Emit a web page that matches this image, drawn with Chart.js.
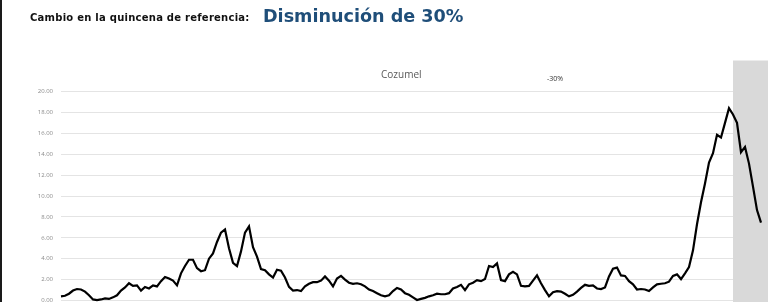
<!DOCTYPE html>
<html><head><meta charset="utf-8">
<script src="https://cdn.jsdelivr.net/npm/chart.js@4"></script>
<style>
html,body{margin:0;padding:0;background:#fff;}
body{width:768px;height:302px;position:relative;overflow:hidden;}
#frame{position:absolute;left:0;top:0;width:768px;height:302px;border-left:2px solid #1a1a1a;box-sizing:border-box;pointer-events:none;}
canvas{position:absolute;left:0;top:0;}
.hdr1{position:absolute;left:30px;top:12px;font:bold 10px "DejaVu Sans";letter-spacing:0.25px;color:#111;white-space:nowrap;}
.hdr2{position:absolute;left:263px;top:6px;font:bold 17.6px "DejaVu Sans";color:#1f4e79;white-space:nowrap;}
.ttl{position:absolute;left:381px;top:67px;font:10px "Open Sans";color:#595959;white-space:nowrap;}
.pct{position:absolute;left:547px;top:74px;font:7px "Open Sans";color:#333;white-space:nowrap;}
</style>
</head><body>
<canvas id="c" width="768" height="302"></canvas>
<div class="hdr1">Cambio en la quincena de referencia:</div>
<div class="hdr2">Disminución de 30%</div>
<div class="ttl">Cozumel</div>
<div class="pct">-30%</div>
<div id="frame"></div>
<script>
const seriesName = "Cozumel";
const values = [
0.4,0.45,0.65,0.95,1.1,1.05,0.85,0.5,0.1,0.03,
0.1,0.2,0.15,0.3,0.5,0.95,1.25,1.65,1.4,1.45,
0.95,1.3,1.15,1.45,1.35,1.85,2.25,2.1,1.9,1.45,
2.6,3.3,3.9,3.9,3.1,2.8,2.9,4.0,4.5,5.6,
6.5,6.8,5.0,3.6,3.3,4.7,6.5,7.1,5.1,4.2,
3.0,2.9,2.5,2.2,2.95,2.85,2.2,1.3,0.95,1.0,
0.9,1.35,1.6,1.75,1.75,1.9,2.3,1.9,1.35,2.1,
2.35,2.0,1.7,1.6,1.65,1.55,1.35,1.05,0.9,0.7,
0.5,0.4,0.5,0.9,1.2,1.05,0.7,0.55,0.3,0.05,
0.15,0.25,0.4,0.5,0.65,0.6,0.6,0.7,1.15,1.3,
1.5,1.0,1.55,1.7,1.95,1.85,2.05,3.3,3.2,3.55,
1.95,1.85,2.5,2.75,2.5,1.4,1.35,1.4,1.9,2.4,
1.65,1.0,0.4,0.8,0.9,0.85,0.65,0.4,0.55,0.85,
1.2,1.5,1.4,1.45,1.15,1.1,1.25,2.3,3.05,3.15,
2.4,2.35,1.85,1.55,1.05,1.1,1.05,0.9,1.25,1.55,
1.6,1.65,1.8,2.35,2.5,2.05,2.6,3.2,4.8,7.3,
9.4,11.2,13.2,14.1,15.85,15.6,17.0,18.4,17.8,17.0,
14.2,14.7,13.1,10.9,8.65,7.45
];
const categories = values.map((_, i) => "S" + (i + 1));
const yTicks = [0,2,4,6,8,10,12,14,16,18,20];
const referenceStart = "S169";

const bandPlugin = {
  id: 'band',
  beforeDatasetsDraw(chart) {
    const x = chart.scales.x;
    const ctx = chart.ctx;
    const left = x.getPixelForValue(categories.indexOf(referenceStart));
    ctx.save();
    ctx.fillStyle = '#d9d9d9';
    ctx.fillRect(left, chart.chartArea.top - 31, chart.width - left, chart.height);
    ctx.restore();
  }
};

new Chart(document.getElementById('c'), {
  type: 'line',
  data: {
    labels: categories,
    datasets: [{
      label: seriesName,
      data: values,
      borderColor: '#000',
      borderWidth: 2.2,
      pointRadius: 0,
      tension: 0,
      clip: false
    }]
  },
  options: {
    responsive: false,
    animation: false,
    layout: { padding: { top: 91.5, right: 7, bottom: 1.5, left: 0 } },
    plugins: { legend: { display: false }, tooltip: { enabled: false }, title: { display: false } },
    scales: {
      x: { type: 'category', display: false, offset: false },
      y: {
        min: yTicks[0], max: yTicks[yTicks.length - 1],
        afterBuildTicks(s) { s.ticks = yTicks.map(v => ({ value: v })); },
        afterFit(s) { s.width = 61; s.paddingTop = 0; s.paddingBottom = 0; },
        ticks: {
          callback: v => Number(v).toFixed(2),
          font: { family: 'Open Sans', size: 6 },
          color: '#8a8a8a',
          padding: 8
        },
        grid: { color: '#e4e4e4', lineWidth: 1, drawTicks: false },
        border: { display: false }
      }
    }
  },
  plugins: [bandPlugin]
});
</script>
</body></html>
